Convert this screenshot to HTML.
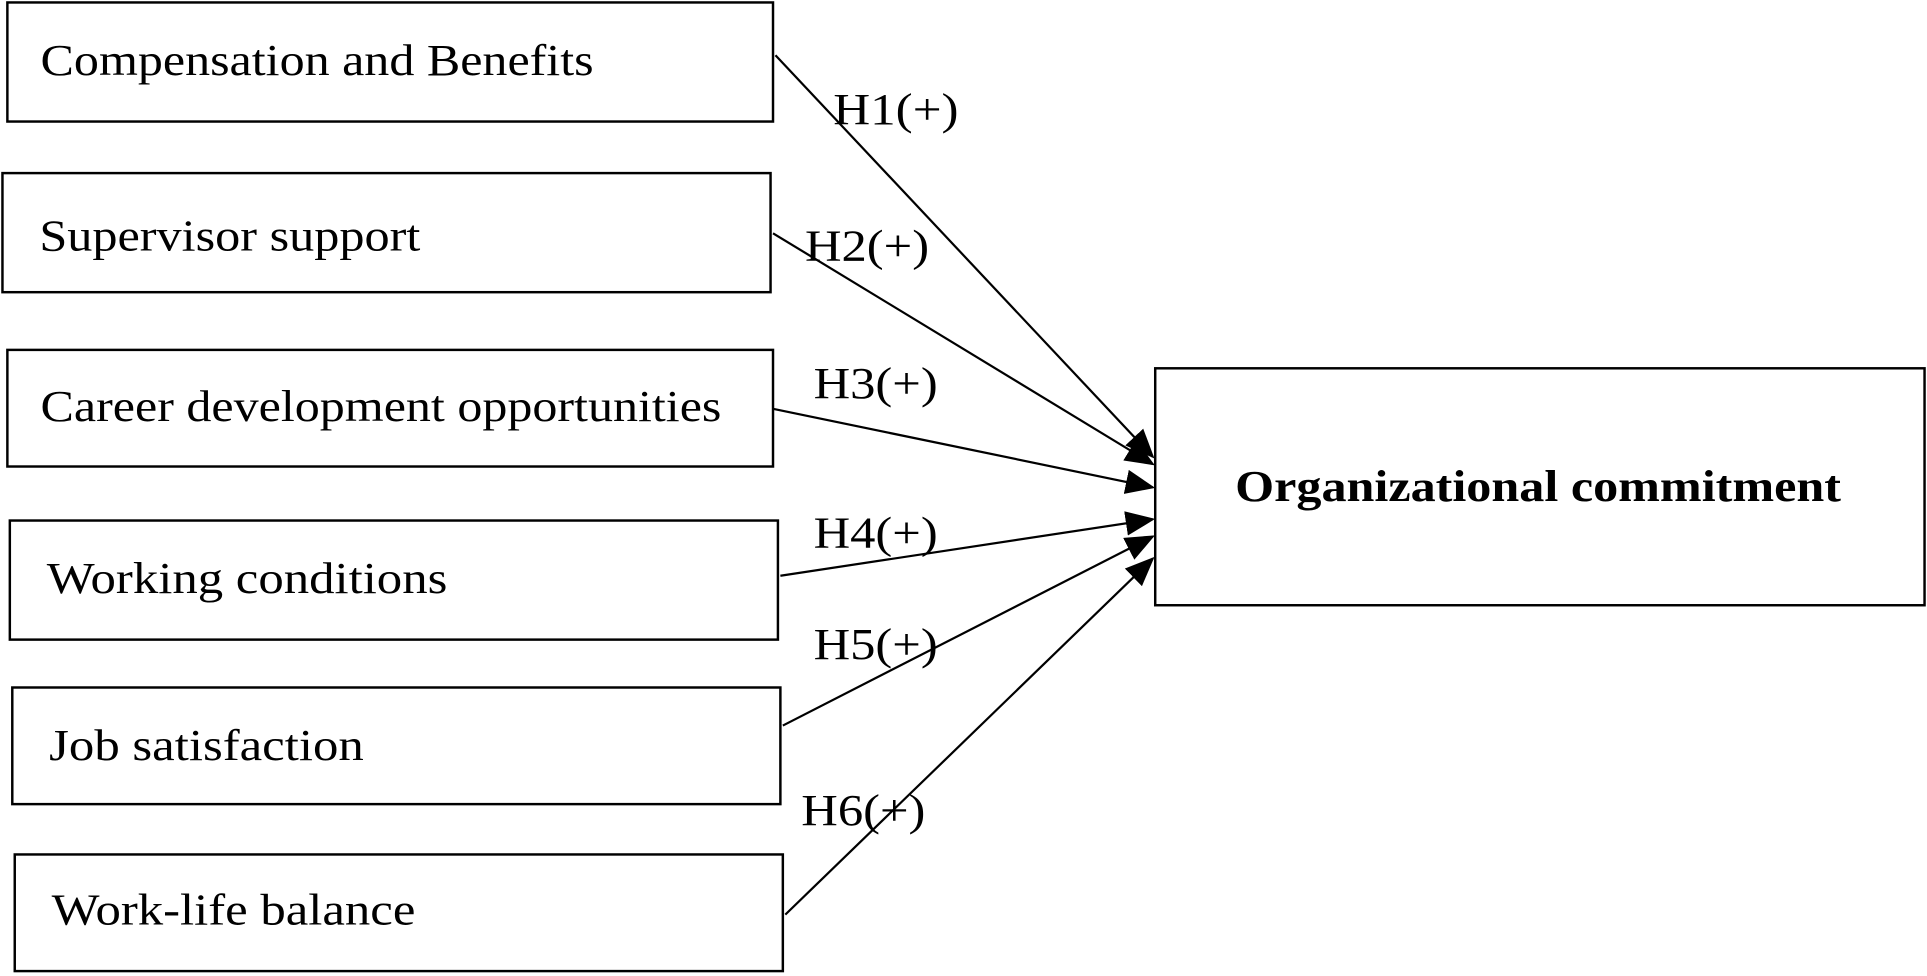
<!DOCTYPE html>
<html><head><meta charset="utf-8"><style>html,body{margin:0;padding:0;background:#fff;}svg{display:block}</style></head>
<body>
<svg width="1927" height="976" viewBox="0 0 1568 795" preserveAspectRatio="none" xmlns="http://www.w3.org/2000/svg">
<defs>
<marker id="b" markerWidth="24" markerHeight="20" refX="22" refY="10" orient="auto" markerUnits="userSpaceOnUse"><path d="M0,0 L24,10 L0,20 z" fill="#000"/></marker></defs>
<g fill="none" stroke="#000" stroke-width="2">
<rect x="6" y="2" width="623" height="97"/>
<rect x="2" y="141" width="625" height="97"/>
<rect x="6" y="285" width="623" height="95"/>
<rect x="8" y="424" width="625" height="97"/>
<rect x="10" y="560" width="625" height="95"/>
<rect x="12" y="696" width="625" height="95"/>
<rect x="940" y="300" width="626" height="193"/>
</g>
<g stroke="#000" stroke-width="1.8" marker-end="url(#b)">
<line x1="631" y1="45" x2="938" y2="372"/>
<line x1="629" y1="190" x2="938" y2="378"/>
<line x1="629" y1="333" x2="938" y2="397"/>
<line x1="635" y1="469" x2="938" y2="423"/>
<line x1="637" y1="591" x2="938" y2="437"/>
<line x1="639" y1="745" x2="938" y2="455"/>
</g>
<g font-family="Liberation Serif, serif" font-size="36" fill="#000">
<text x="33" y="61" textLength="450" lengthAdjust="spacingAndGlyphs">Compensation and Benefits</text>
<text x="32" y="204" textLength="310" lengthAdjust="spacingAndGlyphs">Supervisor support</text>
<text x="33" y="343" textLength="554" lengthAdjust="spacingAndGlyphs">Career development opportunities</text>
<text x="38" y="483" textLength="326" lengthAdjust="spacingAndGlyphs">Working conditions</text>
<text x="40" y="619" textLength="256" lengthAdjust="spacingAndGlyphs">Job satisfaction</text>
<text x="42" y="753" textLength="296" lengthAdjust="spacingAndGlyphs">Work-life balance</text>
<text x="1005" y="408" font-weight="bold" textLength="493" lengthAdjust="spacingAndGlyphs">Organizational commitment</text>
<text x="678" y="101" textLength="102" lengthAdjust="spacingAndGlyphs">H1(+)</text>
<text x="655" y="212" textLength="101" lengthAdjust="spacingAndGlyphs">H2(+)</text>
<text x="662" y="324" textLength="101" lengthAdjust="spacingAndGlyphs">H3(+)</text>
<text x="662" y="446" textLength="101" lengthAdjust="spacingAndGlyphs">H4(+)</text>
<text x="662" y="537" textLength="101" lengthAdjust="spacingAndGlyphs">H5(+)</text>
<text x="652" y="672" textLength="101" lengthAdjust="spacingAndGlyphs">H6(+)</text>
</g>
</svg>
</body></html>
